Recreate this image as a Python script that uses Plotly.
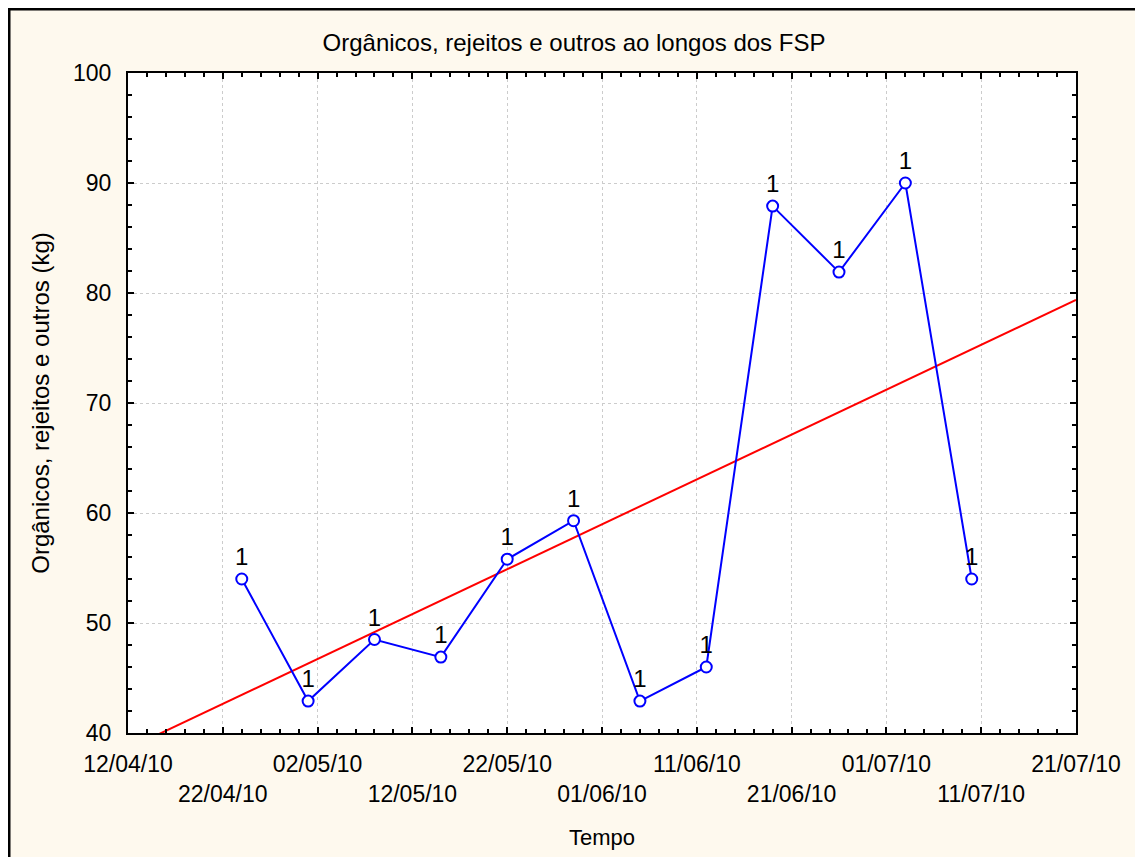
import plotly.graph_objects as go
import numpy as np
import pandas as pd

# ---- data ----
dates = ["2010-04-24", "2010-05-01", "2010-05-08", "2010-05-15", "2010-05-22", "2010-05-29",
         "2010-06-05", "2010-06-12", "2010-06-19", "2010-06-26", "2010-07-03", "2010-07-10"]
values = [54.0, 42.9, 48.5, 46.9, 55.8, 59.3, 42.9, 46.0, 87.9, 81.9, 90.0, 54.0]
point_labels = ["1"] * len(values)

tick_dates = ["2010-04-12", "2010-04-22", "2010-05-02", "2010-05-12", "2010-05-22", "2010-06-01",
              "2010-06-11", "2010-06-21", "2010-07-01", "2010-07-11", "2010-07-21"]
tick_labels = ["12/04/10", "22/04/10", "02/05/10", "12/05/10", "22/05/10", "01/06/10",
               "11/06/10", "21/06/10", "01/07/10", "11/07/10", "21/07/10"]

title_text = "Orgânicos, rejeitos e outros ao longos dos FSP"
x_title = "Tempo"
y_title = "Orgânicos, rejeitos e outros (kg)"

x_range = ["2010-04-12", "2010-07-21"]
y_range = [40, 100]

# ---- regression line (fit on data) ----
d = pd.to_datetime(dates)
t0 = pd.Timestamp(x_range[0])
days = np.array([(v - t0).days for v in d], dtype=float)
slope, intercept = np.polyfit(days, np.array(values), 1)
end_days = np.array([0.0, (pd.Timestamp(x_range[1]) - t0).days])
fit_x = [t0 + pd.Timedelta(days=float(v)) for v in end_days]
fit_y = list(intercept + slope * end_days)

FONT = "Liberation Sans, Arial, sans-serif"
BG = "#FEF9EE"

# the page body adds an 8px offset; margins compensate so the plot lands where wanted
OFF = 8
W, H = 1143, 857
L, R, T, B = 128 - OFF, W - (1076 - OFF), 73 - OFF, H - (733 - OFF)

fig = go.Figure()
fig.add_trace(go.Scatter(x=fit_x, y=fit_y, mode="lines",
                         line=dict(color="#FF0000", width=2), showlegend=False, hoverinfo="skip"))
fig.add_trace(go.Scatter(x=dates, y=values, mode="lines+markers+text",
                         text=point_labels, textposition="top center",
                         textfont=dict(family=FONT, size=24, color="#000000"),
                         line=dict(color="#0000FF", width=2),
                         marker=dict(symbol="circle", size=11, color="#FFFFFF",
                                     line=dict(color="#0000FF", width=2)),
                         showlegend=False, cliponaxis=False))

ticktext = [t if i % 2 == 0 else "<br>" + t for i, t in enumerate(tick_labels)]

fig.update_layout(
    width=W, height=H,
    margin=dict(l=L, r=R, t=T, b=B),
    paper_bgcolor=BG, plot_bgcolor="#FFFFFF",
    font=dict(family=FONT, size=23, color="#000000"),
    title=dict(text=title_text, x=(574 - OFF) / W, xref="container", xanchor="center",
               y=1 - (43 - OFF) / H, yref="container", yanchor="middle",
               font=dict(family=FONT, size=24, color="#000000")),
    xaxis=dict(type="date", range=x_range, tickvals=tick_dates, ticktext=ticktext,
               showline=True, linecolor="#000000", linewidth=2, mirror="ticks",
               ticks="inside", ticklen=6, tickwidth=2, tickcolor="#000000",
               ticklabelstandoff=9,
               showgrid=True, gridcolor="#CCCCCC", griddash="dot", gridwidth=1,
               zeroline=False,
               minor=dict(ticks="inside", ticklen=4, tickwidth=1.5, tickcolor="#000000",
                          dtick=2 * 86400000, tick0=x_range[0], showgrid=False),
               title=dict(text=x_title, font=dict(family=FONT, size=22), standoff=24),
               tickfont=dict(family=FONT, size=23)),
    yaxis=dict(range=y_range, dtick=10, tick0=40,
               showline=True, linecolor="#000000", linewidth=2, mirror="ticks",
               ticks="inside", ticklen=6, tickwidth=2, tickcolor="#000000",
               ticklabelstandoff=10,
               showgrid=True, gridcolor="#CCCCCC", griddash="dot", gridwidth=1,
               zeroline=False,
               minor=dict(ticks="inside", ticklen=4, tickwidth=1.5, tickcolor="#000000",
                          dtick=2, showgrid=False),
               title=dict(text=y_title, font=dict(family=FONT, size=24), standoff=17),
               tickfont=dict(family=FONT, size=23)),
)

# outer black frame (left and top edges visible)
px_w = W - L - R
px_h = H - T - B
left = (9 - 128) / px_w
top = (733 - 9) / px_h
right = (1170 - 128) / px_w
bottom = (733 - 890) / px_h
fig.add_shape(type="rect", xref="paper", yref="paper", x0=left, x1=right, y0=bottom, y1=top,
              line=dict(color="#000000", width=3), fillcolor="rgba(0,0,0,0)", layer="above")

fig.write_html("out.html")
